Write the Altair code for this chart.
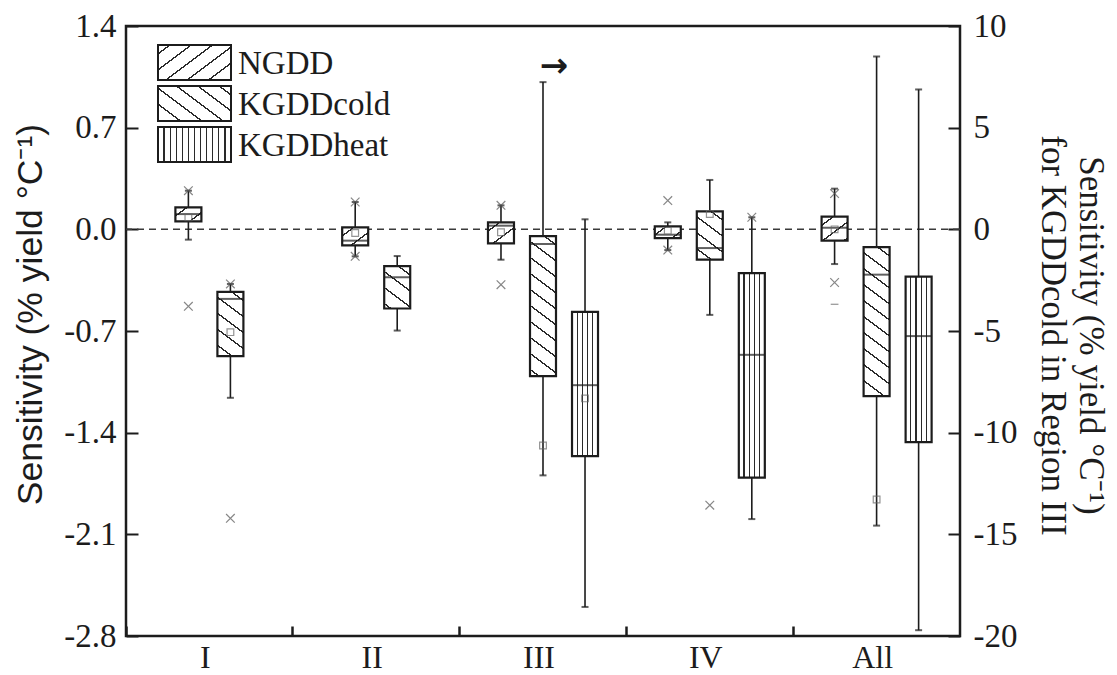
import math
import altair as alt
import pandas as pd

# ---------------- data ----------------
groups = ["I", "II", "III", "IV", "All"]

# NGDD, left axis, groups I..All
ngdd_q1 = [0.055, -0.110, -0.096, -0.060, -0.078]
ngdd_q3 = [0.151, 0.014, 0.048, 0.021, 0.088]
ngdd_med = [0.105, -0.078, 0.025, -0.037, 0.011]
ngdd_lo = [-0.071, -0.186, -0.209, -0.143, -0.239]
ngdd_hi = [0.266, 0.188, 0.165, 0.048, 0.280]
ngdd_mean = [0.083, -0.025, -0.020, -0.010, 0.000]

# KGDDcold, groups I..All (Region III is read on the right axis)
cold_axis = ["left", "left", "right", "left", "left"]
cold_q1 = [-0.873, -0.545, -7.22, -0.209, -1.148]
cold_q3 = [-0.431, -0.254, -0.33, 0.124, -0.123]
cold_med = [-0.479, -0.330, -0.72, -0.129, -0.312]
cold_lo = [-1.160, -0.697, -12.10, -0.589, -2.040]
cold_hi = [-0.376, -0.184, 7.24, 0.340, 1.190]
cold_mean = [-0.708, None, -10.63, 0.106, -1.860]

# KGDDheat, left axis
heat_groups = ["III", "IV", "All"]
heat_q1 = [-1.561, -1.710, -1.465]
heat_q3 = [-0.569, -0.301, -0.326]
heat_med = [-1.073, -0.864, -0.735]
heat_lo = [-2.600, -1.995, -2.760]
heat_hi = [0.069, 0.083, 0.963]
heat_mean = [-1.164, None, None]

# x-marked points
out_group = ["I", "I", "I", "I", "II", "II", "III", "III", "IV", "IV", "IV", "IV", "All", "All"]
out_series = ["NGDD", "NGDD", "KGDDcold", "KGDDcold", "NGDD", "NGDD", "NGDD", "NGDD",
              "NGDD", "NGDD", "KGDDcold", "KGDDheat", "NGDD", "NGDD"]
out_value = [0.266, -0.530, -0.376, -1.990, 0.188, -0.186, 0.165, -0.381,
             -0.143, 0.198, -1.899, 0.083, 0.246, -0.366]
# dash-marked point
dash_group = ["All"]
dash_series = ["NGDD"]
dash_value = [-0.516]

left_ticks = [1.4, 0.7, 0.0, -0.7, -1.4, -2.1, -2.8]
right_ticks = [10, 5, 0, -5, -10, -15, -20]
left_title = "Sensitivity (% yield °C⁻¹)"
right_title = ["Sensitivity (% yield °C⁻¹)", "for KGDDcold in Region III"]
legend_names = ["NGDD", "KGDDcold", "KGDDheat"]
arrow_group = "III"
arrow_series = "KGDDcold"
arrow_value = 8.0  # right-axis units

# ---------------- layout & style ----------------
W, H = 834, 610
LEFT_DOMAIN = [-2.8, 1.4]
RIGHT_DOMAIN = [-20, 10]
BOX_W = 26
INK = "#1c1c1c"
HATCH = "#2a2a2a"
SERIF = "Liberation Serif"
SANS = "Liberation Sans"
PPU = {"left": H / (LEFT_DOMAIN[1] - LEFT_DOMAIN[0]),
       "right": H / (RIGHT_DOMAIN[1] - RIGHT_DOMAIN[0])}


def diag_gradient(w, h, sigma, s=0.75, P=16.0, lw=1.4, phase=0.55):
    h = max(h, 1.0)
    D = h + s * w
    lam = D * h / (h * h + s * s * w * w)
    dx = sigma * s * w * lam / h
    x1 = 0.0 if sigma > 0 else 1.0
    half = lw * math.sqrt(1 + s * s) / 2.0
    stops = [{"offset": 0.0, "color": "white"}]
    last = 0.0
    d = phase * P
    while d < D:
        a = max(last, (d - half) / D)
        b = min(1.0, (d + half) / D)
        if b > a:
            stops += [{"offset": round(a, 5), "color": "white"},
                      {"offset": round(a, 5), "color": HATCH},
                      {"offset": round(b, 5), "color": HATCH},
                      {"offset": round(b, 5), "color": "white"}]
            last = b
        d += P
    stops.append({"offset": 1.0, "color": "white"})
    return {"gradient": "linear", "x1": x1, "y1": 0.0,
            "x2": x1 + dx, "y2": lam, "stops": stops}


def vert_gradient(w, n, lw=1.2):
    stops = [{"offset": 0.0, "color": "white"}]
    half = lw / 2.0 / w
    for k in range(1, n + 1):
        t = k / (n + 1)
        stops += [{"offset": round(t - half, 5), "color": "white"},
                  {"offset": round(t - half, 5), "color": HATCH},
                  {"offset": round(t + half, 5), "color": HATCH},
                  {"offset": round(t + half, 5), "color": "white"}]
    stops.append({"offset": 1.0, "color": "white"})
    return {"gradient": "linear", "x1": 0.0, "y1": 0.0, "x2": 1.0, "y2": 0.0, "stops": stops}


def fill_for(series, w, h):
    if series == "NGDD":
        return diag_gradient(w, h, +1)
    if series == "KGDDcold":
        return diag_gradient(w, h, -1)
    return vert_gradient(w, max(3, int(round(w / 5.5)) - 1))


# ---------------- tables ----------------
rows = []
for i, g in enumerate(groups):
    rows.append(dict(group=g, series="NGDD", side="left", q1=ngdd_q1[i], q3=ngdd_q3[i],
                     med=ngdd_med[i], lo=ngdd_lo[i], hi=ngdd_hi[i], mean=ngdd_mean[i]))
    rows.append(dict(group=g, series="KGDDcold", side=cold_axis[i], q1=cold_q1[i], q3=cold_q3[i],
                     med=cold_med[i], lo=cold_lo[i], hi=cold_hi[i], mean=cold_mean[i]))
    if g in heat_groups:
        j = heat_groups.index(g)
        rows.append(dict(group=g, series="KGDDheat", side="left", q1=heat_q1[j], q3=heat_q3[j],
                         med=heat_med[j], lo=heat_lo[j], hi=heat_hi[j], mean=heat_mean[j]))
boxes = pd.DataFrame(rows)
boxes["n"] = boxes.groupby("group")["series"].transform("count")
boxes["k"] = boxes.groupby("group").cumcount()
boxes["slot"] = boxes["k"] * 2 + 1 + (boxes["n"] == 2).astype(int)

keys = boxes[["group", "series", "side", "slot"]]
outs = pd.DataFrame({"group": out_group, "series": out_series, "val": out_value}).merge(keys, on=["group", "series"])
dashes = pd.DataFrame({"group": dash_group, "series": dash_series, "val": dash_value}).merge(keys, on=["group", "series"])
arrow = pd.DataFrame({"group": [arrow_group], "series": [arrow_series], "val": [arrow_value]}).merge(keys, on=["group", "series"])

# ---------------- encodings ----------------
XS = alt.Scale(domain=groups, paddingInner=0, paddingOuter=0)
X = alt.X("group:N", scale=XS, axis=None)
XO = alt.XOffset("slot:O", scale=alt.Scale(domain=[0, 1, 2, 3, 4, 5, 6], paddingInner=0, paddingOuter=0.47))
YSCALE = {"left": alt.Scale(domain=LEFT_DOMAIN, nice=False, zero=False),
          "right": alt.Scale(domain=RIGHT_DOMAIN, nice=False, zero=False)}


def Y(field, side, axis=None):
    return alt.Y(f"{field}:Q", scale=YSCALE[side], axis=axis)


def box_layers(df, side):
    layers = []
    if len(df) == 0:
        return layers
    layers.append(alt.Chart(df).mark_rule(strokeWidth=1.6, color=INK).encode(
        x=X, xOffset=XO, y=Y("lo", side), y2=alt.Y2("hi")))
    layers.append(alt.Chart(df).transform_fold(["lo", "hi"], as_=["end", "val"]).mark_tick(
        orient="horizontal", size=7, thickness=2, color=INK).encode(x=X, xOffset=XO, y=Y("val", side)))
    for _, r in df.iterrows():
        h = abs(r["q3"] - r["q1"]) * PPU[side]
        one = pd.DataFrame([r.to_dict()])
        layers.append(alt.Chart(one).mark_bar(
            size=BOX_W, fill=fill_for(r["series"], BOX_W, h), stroke=INK, strokeWidth=2.2).encode(
            x=X, xOffset=XO, y=Y("q1", side), y2=alt.Y2("q3")))
    layers.append(alt.Chart(df).mark_tick(orient="horizontal", size=BOX_W, thickness=2, color=INK).encode(
        x=X, xOffset=XO, y=Y("med", side)))
    m = df.dropna(subset=["mean"])
    if len(m):
        layers.append(alt.Chart(m).mark_point(shape="square", size=45, filled=False, color="#666",
                                              strokeWidth=1.2).encode(x=X, xOffset=XO, y=Y("mean", side)))
    return layers


X_PATH = "M-1,-1L1,1M1,-1L-1,1"

# ---------------- left group ----------------
left_axis = alt.Axis(orient="left", values=left_ticks,
                     labelExpr="replace(format(datum.value, '.1f'), '\u2212', '-')",
                     labelFont=SERIF, labelFontSize=33, labelColor=INK, labelPadding=10,
                     ticks=False, tickSize=0, domain=False, grid=False,
                     title=left_title, titleFont=SANS, titleFontSize=35.5, titleFontWeight="normal",
                     titleColor=INK, titleX=-96, titleY=288, titleAngle=-90,
                     titleBaseline="middle", titleAlign="center")
left_tick_axis = alt.Axis(orient="right", offset=-W, values=left_ticks, labels=False, domain=False,
                          ticks=True, tickSize=12, tickWidth=2, tickColor=INK, title=None, grid=False)
x_label_axis = alt.Axis(orient="bottom", labelFont=SERIF, labelFontSize=32, labelColor=INK,
                        labelPadding=6, labelOffset=-4, labelAngle=0, ticks=False, tickSize=0,
                        domain=False, title=None, grid=False)
x_tick_axis = alt.Axis(orient="top", offset=-H, bandPosition=0, labels=False, ticks=True,
                       tickSize=10, tickWidth=2.5, tickColor=INK, domain=False, title=None, grid=False)

gdf = pd.DataFrame({"group": groups})
A_layers = [
    alt.Chart(pd.DataFrame({"v": [0.0]})).mark_rule(strokeDash=[7, 5], strokeWidth=1.5, color="#3a3a3a").encode(
        y=alt.Y("v:Q", scale=YSCALE["left"], axis=left_axis)),
    alt.Chart(pd.DataFrame({"v": left_ticks})).mark_rule(opacity=0).encode(
        y=alt.Y("v:Q", scale=YSCALE["left"], axis=left_tick_axis)),
    alt.Chart(gdf).mark_rule(opacity=0).encode(x=alt.X("group:N", scale=XS, axis=x_label_axis)),
    alt.Chart(gdf).mark_rule(opacity=0).encode(x=alt.X("group:N", scale=XS, axis=x_tick_axis)),
]
A_layers += box_layers(boxes[boxes["side"] == "left"].reset_index(drop=True), "left")
lo_out = outs[outs["side"] == "left"]
A_layers.append(alt.Chart(lo_out).mark_point(shape=X_PATH, size=75, filled=False, color="#555",
                                             strokeWidth=1.2).encode(x=X, xOffset=XO, y=Y("val", "left")))
A_layers.append(alt.Chart(dashes).mark_point(shape="M-1,0L1,0", size=60, filled=False, color="#666",
                                             strokeWidth=1.2).encode(x=X, xOffset=XO, y=Y("val", "left")))

# legend
one = pd.DataFrame({"k": [0]})
LEG_X0, LEG_X1 = 32, 105
leg_rows = [(19, 54), (60, 95), (101, 136)]
for name, (y0, y1) in zip(legend_names, leg_rows):
    A_layers.append(alt.Chart(one).mark_rect(
        fill=fill_for(name, LEG_X1 - LEG_X0, y1 - y0) if name != "KGDDheat" else vert_gradient(LEG_X1 - LEG_X0, 11),
        stroke=INK, strokeWidth=2).encode(
        x=alt.value(LEG_X0), x2=alt.value(LEG_X1), y=alt.value(y0), y2=alt.value(y1)))
    A_layers.append(alt.Chart(one).mark_text(align="left", baseline="middle", font=SERIF, fontSize=33,
                                             color=INK).encode(
        x=alt.value(LEG_X1 + 7), y=alt.value((y0 + y1) / 2 + 1), text=alt.value(name)))

groupA = alt.layer(*A_layers)

# ---------------- right group ----------------
right_axis = alt.Axis(orient="right", values=right_ticks,
                      labelExpr="replace(format(datum.value, 'd'), '\u2212', '-')",
                      labelFont=SERIF, labelFontSize=33, labelColor=INK, labelPadding=13,
                      ticks=False, tickSize=0, domain=False, grid=False,
                      title=right_title, titleFont=SERIF, titleFontSize=35, titleFontWeight="normal",
                      titleColor=INK, titleX=130, titleY=309, titleAngle=90,
                      titleBaseline="middle", titleAlign="center", titleLineHeight=38)
right_tick_axis = alt.Axis(orient="left", offset=-W, values=right_ticks, labels=False, domain=False,
                           ticks=True, tickSize=12, tickWidth=2, tickColor=INK, title=None, grid=False)
B_layers = [
    alt.Chart(pd.DataFrame({"v": right_ticks})).mark_rule(opacity=0).encode(
        y=alt.Y("v:Q", scale=YSCALE["right"], axis=right_axis)),
    alt.Chart(pd.DataFrame({"v": right_ticks})).mark_rule(opacity=0).encode(
        y=alt.Y("v:Q", scale=YSCALE["right"], axis=right_tick_axis)),
]
B_layers += box_layers(boxes[boxes["side"] == "right"].reset_index(drop=True), "right")
B_layers.append(alt.Chart(arrow).mark_text(text="→", font="DejaVu Sans", fontSize=34, fontWeight="bold",
                                           color=INK, dx=11).encode(x=X, xOffset=XO, y=Y("val", "right")))
groupB = alt.layer(*B_layers)

chart = alt.layer(groupA, groupB).resolve_scale(y="independent").properties(
    width=W, height=H,
    autosize=alt.AutoSizeParams(type="none"),
    padding={"left": 118, "top": 18, "right": 149, "bottom": 40},
).configure_view(stroke=INK, strokeWidth=2.5).configure_axis(grid=False)

chart.save("out.html", embed_options={"renderer": "svg", "actions": False})
